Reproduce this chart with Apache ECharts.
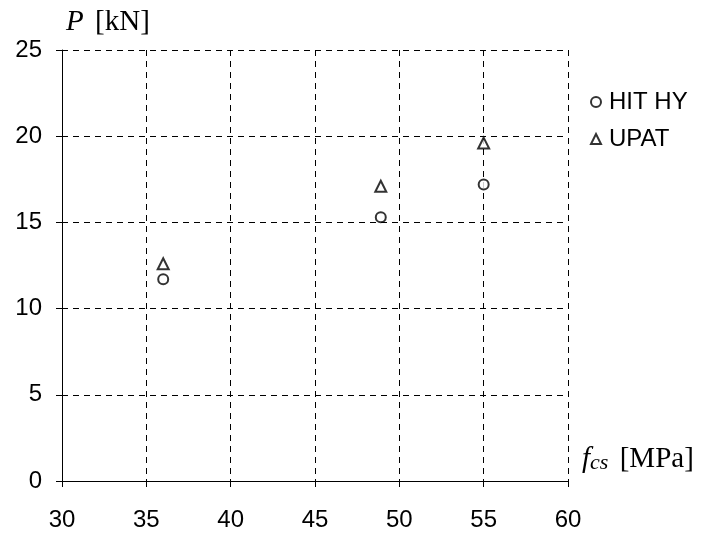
<!DOCTYPE html>
<html>
<head>
<meta charset="utf-8">
<script src="https://cdn.jsdelivr.net/npm/echarts@6/dist/echarts.min.js"></script>
<style>
  html, body { margin: 0; padding: 0; background: #fff; }
  #chart { width: 703px; height: 539px; }
</style>
</head>
<body>
<div id="chart"></div>
<script>
// 数据：抗压强度 fcs [MPa] 与荷载 P [kN]
var SERIES_NAMES = ['HIT HY', 'UPAT'];
var FCS = [36.0, 48.9, 55.0];
var HIT_HY = [11.7, 15.3, 17.2];
var UPAT = [12.6, 17.1, 19.6];

var SANS = '"Liberation Sans", Arial, sans-serif';
var SERIF = '"Liberation Serif", "Times New Roman", serif';

function pairs(xs, ys) {
  return xs.map(function(x, i) { return [x, ys[i]]; });
}

var chart = echarts.init(document.getElementById('chart'));

var gridLine = { show: true, lineStyle: { color: '#000', type: [6, 5], width: 1 } };
var axisLine = { show: true, lineStyle: { color: '#000', width: 1 } };
var axisTick = { show: true, inside: false, length: 6, lineStyle: { color: '#000' } };

chart.setOption({
  animation: false,
  grid: { left: 62, right: 135, top: 50, bottom: 58 },
  legend: {
    orient: 'vertical',
    left: 585,
    top: 85,
    itemGap: 13,
    itemWidth: 10,
    itemHeight: 10,
    textStyle: { fontFamily: SANS, fontSize: 24, color: '#000', padding: [0, 0, 0, 3] },
    data: SERIES_NAMES
  },
  xAxis: {
    type: 'value',
    min: 30, max: 60, interval: 5,
    axisLine: axisLine,
    axisTick: axisTick,
    splitLine: gridLine,
    axisLabel: { color: '#000', fontFamily: SANS, fontSize: 24, margin: 27 },
    name: '{i|f}{sub|cs} {n|[MPa]}',
    nameLocation: 'end',
    nameGap: 14,
    nameTextStyle: {
      align: 'left',
      verticalAlign: 'bottom',
      padding: [0, 0, 7, 0],
      rich: {
        i: { fontFamily: SERIF, fontStyle: 'italic', fontSize: 29, color: '#000' },
        sub: { fontFamily: SERIF, fontStyle: 'italic', fontSize: 22, color: '#000', padding: [8, 0, 0, 0] },
        n: { fontFamily: SERIF, fontSize: 29, color: '#000', padding: [0, 0, 0, 8] }
      }
    }
  },
  yAxis: {
    type: 'value',
    min: 0, max: 25, interval: 5,
    axisLine: axisLine,
    axisTick: axisTick,
    splitLine: gridLine,
    axisLabel: { color: '#000', fontFamily: SANS, fontSize: 24, margin: 20 },
    name: '{i|P} {n|[kN]}',
    nameLocation: 'end',
    nameGap: 13,
    nameTextStyle: {
      align: 'left',
      padding: [0, 0, 0, 4],
      rich: {
        i: { fontFamily: SERIF, fontStyle: 'italic', fontSize: 29, color: '#000' },
        n: { fontFamily: SERIF, fontSize: 29, color: '#000', padding: [0, 0, 0, 8] }
      }
    }
  },
  series: [
    {
      name: SERIES_NAMES[0],
      type: 'scatter',
      symbol: 'emptyCircle',
      symbolSize: 10,
      itemStyle: { color: '#000', borderColor: '#000', borderWidth: 1.5 },
      data: pairs(FCS, HIT_HY)
    },
    {
      name: SERIES_NAMES[1],
      type: 'scatter',
      symbol: 'emptyTriangle',
      symbolSize: 11,
      itemStyle: { color: '#000', borderColor: '#000', borderWidth: 1.5 },
      data: pairs(FCS, UPAT)
    }
  ]
});
</script>
</body>
</html>
